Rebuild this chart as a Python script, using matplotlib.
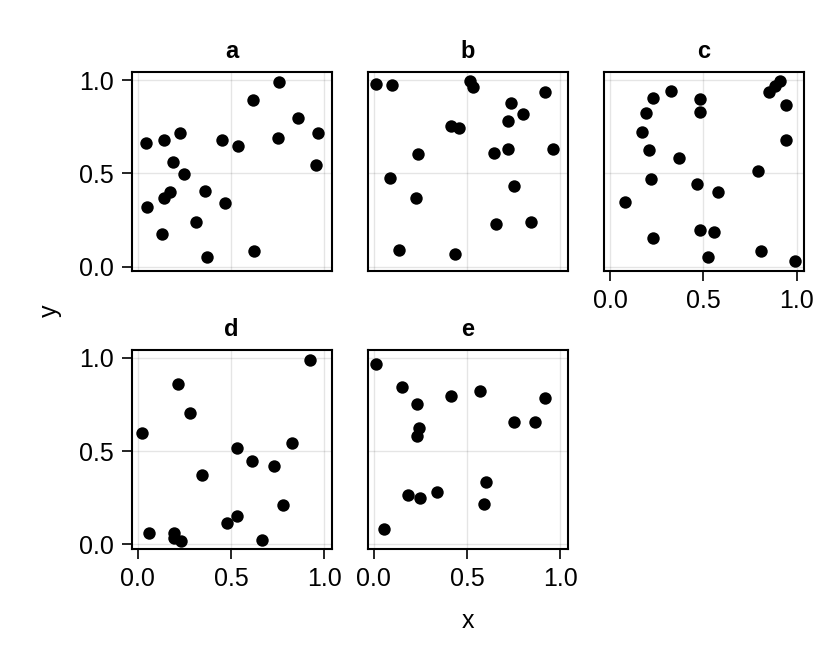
import matplotlib
matplotlib.use('Agg')
import matplotlib.pyplot as plt
import numpy as np

plt.rcParams['font.family'] = ['Liberation Sans', 'DejaVu Sans']

# points
a_x = [0.045, 0.139, 0.225, 0.454, 0.536, 0.620, 0.755, 0.857, 0.750, 0.968, 0.954,
       0.188, 0.250, 0.175, 0.139, 0.048, 0.361, 0.470, 0.314, 0.130, 0.370, 0.625]
a_y = [0.664, 0.677, 0.714, 0.679, 0.645, 0.891, 0.988, 0.796, 0.691, 0.716, 0.546,
       0.561, 0.496, 0.398, 0.370, 0.320, 0.405, 0.339, 0.238, 0.173, 0.052, 0.082]

b_x = [0.014, 0.098, 0.514, 0.532, 0.916, 0.734, 0.798, 0.720, 0.414, 0.459, 0.238,
       0.645, 0.720, 0.963, 0.089, 0.752, 0.227, 0.655, 0.845, 0.134, 0.438]
b_y = [0.979, 0.975, 0.995, 0.961, 0.936, 0.875, 0.816, 0.779, 0.754, 0.745, 0.604,
       0.611, 0.632, 0.630, 0.477, 0.430, 0.370, 0.229, 0.238, 0.091, 0.066]

c_x = [0.911, 0.886, 0.854, 0.325, 0.230, 0.480, 0.480, 0.193, 0.946, 0.170, 0.941,
       0.209, 0.371, 0.796, 0.218, 0.464, 0.577, 0.082, 0.482, 0.555, 0.229, 0.525,
       0.809, 0.991]
c_y = [0.998, 0.970, 0.934, 0.941, 0.905, 0.898, 0.829, 0.825, 0.866, 0.720, 0.679,
       0.627, 0.580, 0.513, 0.470, 0.445, 0.400, 0.346, 0.198, 0.184, 0.152, 0.050,
       0.086, 0.032]

d_x = [0.925, 0.216, 0.279, 0.025, 0.825, 0.532, 0.614, 0.729, 0.346, 0.780, 0.532,
       0.477, 0.061, 0.193, 0.193, 0.234, 0.664]
d_y = [0.987, 0.858, 0.704, 0.596, 0.544, 0.519, 0.445, 0.418, 0.370, 0.210, 0.154,
       0.113, 0.059, 0.061, 0.034, 0.016, 0.022]

e_x = [0.014, 0.154, 0.416, 0.568, 0.918, 0.230, 0.754, 0.863, 0.241, 0.233, 0.602,
       0.341, 0.182, 0.250, 0.589, 0.055]
e_y = [0.966, 0.846, 0.797, 0.821, 0.783, 0.750, 0.654, 0.654, 0.625, 0.580, 0.336,
       0.280, 0.262, 0.250, 0.217, 0.081]

titles = ['a', 'b', 'c', 'd', 'e']
xs = [a_x, b_x, c_x, d_x, e_x]
ys = [a_y, b_y, c_y, d_y, e_y]
ticks = [0.0, 0.5, 1.0]
tick_labels = ['0.0', '0.5', '1.0']

W, H = 836, 666
fig = plt.figure(figsize=(W / 100, H / 100), dpi=100)

# panel frames in pixels: left, top, width, height
col_left = [131.7, 367.7, 604.0]
row_top = [72.3, 350.0]
pw, ph = 200.0, 199.0

for i in range(5):
    r, c = divmod(i, 3)
    l, t = col_left[c], row_top[r]
    ax = fig.add_axes([l / W, 1 - (t + ph) / H, pw / W, ph / H])
    ax.scatter(xs[i], ys[i], s=80, color='black', linewidths=0, zorder=3)
    ax.set_xlim(-0.032, 1.040)
    ax.set_ylim(-0.025, 1.042)
    ax.set_xticks(ticks)
    ax.set_yticks(ticks)
    ax.grid(True, color='black', alpha=0.1, linewidth=1.0)
    ax.set_axisbelow(True)
    for sp in ax.spines.values():
        sp.set_linewidth(1.5)
    ax.tick_params(direction='out', length=7, width=1.2, labelsize=18, pad=6)
    ax.set_title(titles[i], fontsize=17, fontweight='bold', pad=10)
    # bottom row and panel c show x labels, first column shows y labels
    if r == 0 and c != 2:
        ax.tick_params(axis='x', bottom=False, labelbottom=False)
    else:
        ax.set_xticklabels(tick_labels)
    if c == 0:
        ax.set_yticklabels(tick_labels)
    else:
        ax.tick_params(axis='y', left=False, labelleft=False)

fig.text(467.5 / W, 1 - 621 / H, 'x', fontsize=18, ha='center', va='center')
fig.text(50 / W, 1 - 311 / H, 'y', fontsize=18, ha='center', va='center', rotation=90)

plt.savefig('out.png', dpi=100)
